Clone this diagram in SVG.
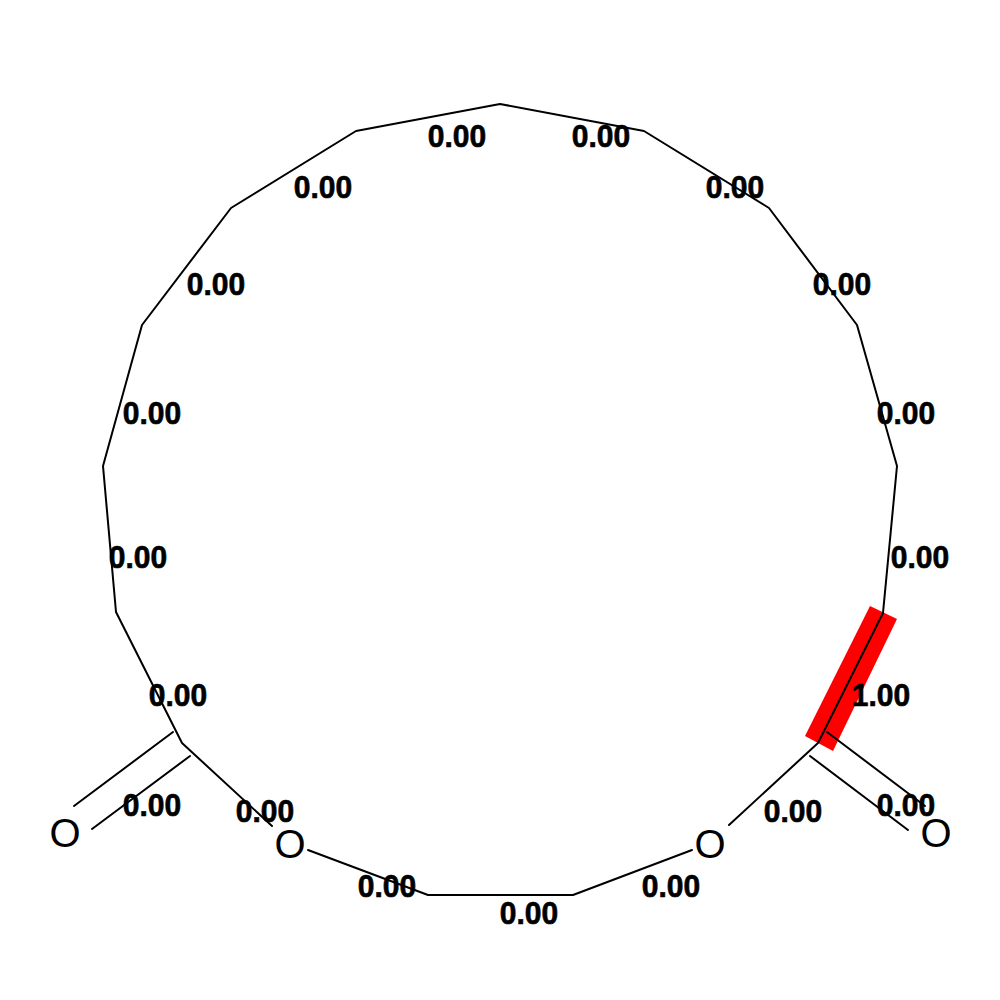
<svg xmlns="http://www.w3.org/2000/svg" width="1000" height="1000" viewBox="0 0 1000 1000">
<style>
.b{stroke:#000;stroke-width:2;fill:none;stroke-linecap:round;stroke-linejoin:round}
.l{font-family:"Liberation Sans",Arial,sans-serif;font-weight:bold;font-size:30px;fill:#000;stroke:#000;stroke-width:.6;text-anchor:middle}
.o{font-family:"Liberation Sans",Arial,sans-serif;font-size:40px;fill:#000;text-anchor:middle}
</style>
<rect width="1000" height="1000" fill="#fff"/>
<g id="highlight"><polygon points="870,606 897,619 833,751 805,736" fill="#f00"/></g>
<g id="connectors">
<polyline class="b" points="729,825 818,743 883,613 897,466 857,325 769,208 644,131 500,104 356,131 231,208 142,325 103,466 116,612 182,743 272,826"/>
<polyline class="b" points="308,850 428,895 573,895 692,850"/>
<line class="b" x1="173" y1="732" x2="74" y2="806"/><line class="b" x1="190" y1="756" x2="92" y2="829"/>
<line class="b" x1="827" y1="732" x2="925" y2="806"/><line class="b" x1="810" y1="756" x2="908" y2="830"/>
</g>
<g id="atoms"><text class="o" x="65" y="847">O</text><text class="o" x="290" y="858">O</text><text class="o" x="710" y="858">O</text><text class="o" x="936" y="847">O</text></g>
<g id="labels">
<text class="l" transform="translate(457 147) scale(1 1.06)">0.00</text><text class="l" transform="translate(601 147) scale(1 1.06)">0.00</text><text class="l" transform="translate(735 198) scale(1 1.06)">0.00</text><text class="l" transform="translate(842 295) scale(1 1.06)">0.00</text><text class="l" transform="translate(906 424) scale(1 1.06)">0.00</text><text class="l" transform="translate(920 568) scale(1 1.06)">0.00</text><text class="l" transform="translate(881 706) scale(1 1.06)">1.00</text><text class="l" transform="translate(906 816) scale(1 1.06)">0.00</text><text class="l" transform="translate(793 822) scale(1 1.06)">0.00</text><text class="l" transform="translate(671 897) scale(1 1.06)">0.00</text><text class="l" transform="translate(529 924) scale(1 1.06)">0.00</text><text class="l" transform="translate(387 897) scale(1 1.06)">0.00</text><text class="l" transform="translate(265 822) scale(1 1.06)">0.00</text><text class="l" transform="translate(152 816) scale(1 1.06)">0.00</text><text class="l" transform="translate(178 706) scale(1 1.06)">0.00</text><text class="l" transform="translate(138 568) scale(1 1.06)">0.00</text><text class="l" transform="translate(152 424) scale(1 1.06)">0.00</text><text class="l" transform="translate(216 295) scale(1 1.06)">0.00</text><text class="l" transform="translate(323 198) scale(1 1.06)">0.00</text>
</g>
</svg>
